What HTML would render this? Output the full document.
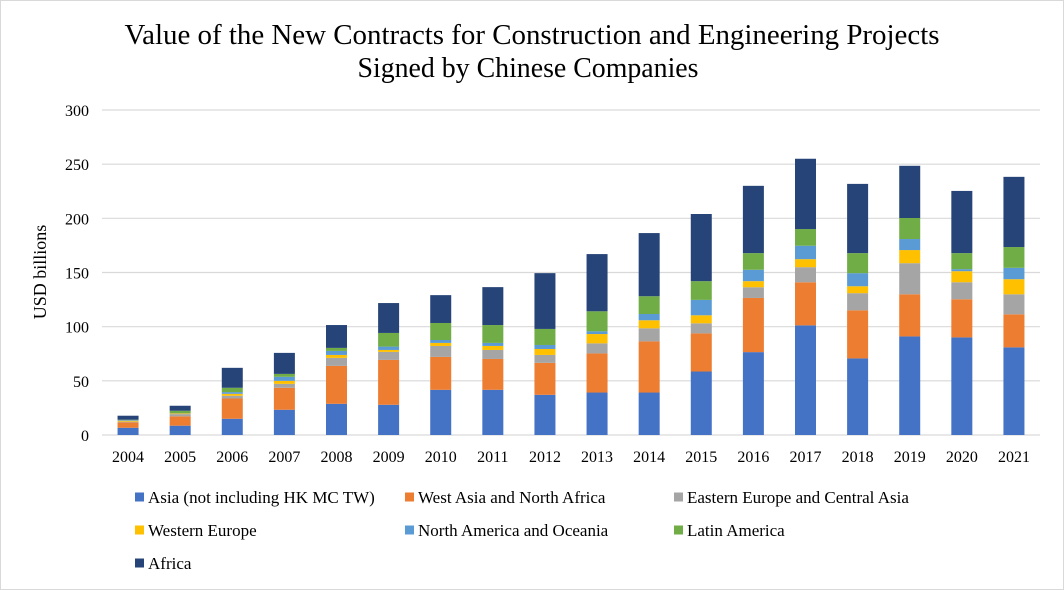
<!DOCTYPE html>
<html><head><meta charset="utf-8">
<style>
html,body{margin:0;padding:0;background:#fff;}
svg{display:block;font-family:"Liberation Serif",serif;}
</style></head>
<body>
<svg id="chart" width="1064" height="590" viewBox="0 0 1064 590">
<rect x="0.5" y="0.5" width="1063" height="589" fill="#fff" stroke="#d9d9d9"/>
<text x="532" y="44" text-anchor="middle" font-size="28" textLength="815" lengthAdjust="spacingAndGlyphs" fill="#000">Value of the New Contracts  for Construction and Engineering Projects</text>
<text x="528" y="77" text-anchor="middle" font-size="28" textLength="341" lengthAdjust="spacingAndGlyphs" fill="#000">Signed by Chinese Companies</text>
<text transform="translate(46,272) rotate(-90)" text-anchor="middle" font-size="18" fill="#000">USD billions</text>
<g id="grid"></g><g id="bars"></g><g id="xlabels"></g><g id="legend"></g>
</svg>
<script>
const years=["2004","2005","2006","2007","2008","2009","2010","2011","2012","2013","2014","2015","2016","2017","2018","2019","2020","2021"];
const seriesNames=["Asia (not including HK MC TW)","West Asia and North Africa","Eastern Europe and Central Asia","Western Europe","North America and Oceania","Latin America","Africa"];
const asia=[6.7,8.6,15,23.3,28.8,27.9,41.7,41.7,37.1,39.2,39.2,58.6,76.5,101.2,70.7,91,90.1,80.9];
const westAsia=[5,8.6,18.7,20.3,35,41.4,30.4,28.5,29.5,36.1,47.2,35.2,50,39.8,44.4,38.9,35.2,30.5];
const easternEurope=[0.6,2.1,2.5,3.6,7.4,7.4,10.1,8.3,7.3,9.3,12.1,9.3,9.9,13.9,15.8,28.7,15.7,18.5];
const westernEurope=[0.9,0.6,1.8,2.8,2.7,1.8,2.8,3.7,5.5,8.6,7.4,7.4,5.6,7.4,6.4,12.1,10.2,13.9];
const northAmerica=[0.6,0.3,1.6,3.7,3.7,3.1,2.7,2.8,3.7,2.5,5.8,14.2,10.5,12.4,12.1,10.2,1.9,10.5];
const latinAmerica=[0.3,2.2,4,2.7,2.8,12.6,15.7,16.5,14.8,18.5,16.4,17.3,15.4,15.4,18.5,19.4,14.8,19.2];
const africa=[3.7,4.6,18.4,19.4,21.1,27.6,25.7,35,51.5,52.8,58.3,62,62.1,64.9,63.9,48.2,57.4,64.8];
const yTicks=[0,50,100,150,200,250,300];
const series=[asia,westAsia,easternEurope,westernEurope,northAmerica,latinAmerica,africa];
const colors=["#4472c4","#ed7d31","#a5a5a5","#ffc000","#5b9bd5","#70ad47","#264478"];
const NS="http://www.w3.org/2000/svg";
const x0=102,x1=1040,yBase=435,yTop=110,yMax=300;
const band=(x1-x0)/years.length,bw=21;
function yS(v){return yBase-(v/yMax)*(yBase-yTop);}
function xC(i){return x0+band*(i+0.5);}
function mk(t,a,p){const e=document.createElementNS(NS,t);for(const k in a)e.setAttribute(k,a[k]);p.appendChild(e);return e;}
const grid=document.getElementById('grid');
yTicks.forEach(t=>{
  const l=mk('line',{x1:x0,x2:x1,y1:yS(t),y2:yS(t),stroke:'#d9d9d9','stroke-width':1.2},grid);
  
  
  const tx=mk('text',{x:89,y:yS(t)+6,'text-anchor':'end','font-size':16,fill:'#000'},grid);
  tx.textContent=t;
  
  
});
const bars=document.getElementById('bars');
years.forEach((yr,i)=>{
  let cum=0;
  series.forEach((s,k)=>{
    const v=s[i];
    const r=mk('rect',{x:xC(i)-bw/2,y:yS(cum+v),width:bw,height:yS(cum)-yS(cum+v),fill:colors[k]},bars);
    
    
    cum+=v;
  });
  const tx=mk('text',{x:xC(i),y:462,'text-anchor':'middle','font-size':16,fill:'#000'},document.getElementById('xlabels'));
  tx.textContent=yr;
  
  
});
const leg=document.getElementById('legend');
const lx=[135,405,674],ly=[497,530,563];
seriesNames.forEach((n,k)=>{
  const cx=lx[k%3],cy=ly[Math.floor(k/3)];
  const g=mk('g',{},leg);
  
  
  mk('rect',{x:cx,y:cy-4.5,width:9,height:9,fill:colors[k]},g);
  const t=mk('text',{x:cx+13,y:cy+6,'font-size':17,fill:'#000'},g);
  t.textContent=n;
});
</script>
</body></html>
